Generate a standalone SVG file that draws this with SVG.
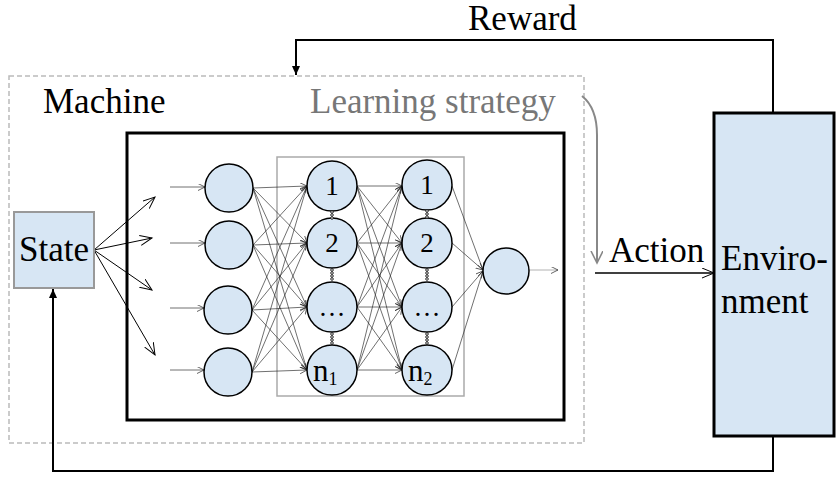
<svg xmlns="http://www.w3.org/2000/svg" width="840" height="478" viewBox="0 0 840 478">
<defs>
<marker id="fill" markerUnits="userSpaceOnUse" markerWidth="10" markerHeight="10" refX="9" refY="4" orient="auto"><path d="M0,0 L9,4 L0,8 Z" fill="#000"/></marker>
<marker id="open" markerUnits="userSpaceOnUse" markerWidth="14" markerHeight="12" refX="12" refY="5" orient="auto"><path d="M0,0 L12,5 L0,10" fill="none" stroke="#000" stroke-width="1"/></marker>
<marker id="gopen" markerUnits="userSpaceOnUse" markerWidth="14" markerHeight="14" refX="12" refY="6" orient="auto"><path d="M0,0 L12,6 L0,12" fill="none" stroke="#888" stroke-width="1.6"/></marker>
<marker id="sm" markerUnits="userSpaceOnUse" markerWidth="8" markerHeight="8" refX="7" refY="3.5" orient="auto"><path d="M0,0 L7,3.5 L0,7" fill="none" stroke="#222" stroke-width="0.7"/></marker>
</defs>
<style>
.lbl{font-family:"Liberation Serif","Times New Roman",serif;font-size:35px;fill:#000}
.nt{font-family:"Liberation Serif","Times New Roman",serif;font-size:27px;fill:#000;text-anchor:middle}
.nn{font-family:"Liberation Serif","Times New Roman",serif;font-size:31px;fill:#000}
.node{fill:#d7e6f4;stroke:#000;stroke-width:1.5}
.mesh line{stroke:#222;stroke-width:0.65;marker-end:url(#sm)}
.dot{fill:#fff;stroke:#000;stroke-width:0.8}
</style>
<rect width="840" height="478" fill="#fff"/>

<g id="machine">
<rect x="9" y="76" width="575" height="367" fill="none" stroke="#bbb" stroke-width="1.5" stroke-dasharray="5,3"/>
<text class="lbl" x="43" y="113">Machine</text>
<text class="lbl" x="310" y="113" style="fill:#777">Learning strategy</text>
</g>

<g id="network-box">
<rect x="127" y="133" width="437" height="287" fill="none" stroke="#000" stroke-width="3"/>
<rect x="277" y="157" width="187" height="239" fill="none" stroke="#aaa" stroke-width="1.5"/>
</g>

<g id="connectors">
<path d="M773 113 L773 40 L296 40 L296 75" fill="none" stroke="#000" stroke-width="2" marker-end="url(#fill)"/>
<path d="M773 436 L773 471 L53 471 L53 289" fill="none" stroke="#000" stroke-width="2" marker-end="url(#fill)"/>
<path d="M582 96 Q597 108 597 135 L597 263" fill="none" stroke="#888" stroke-width="2" marker-end="url(#gopen)"/>
<line x1="595" y1="273" x2="714" y2="273" stroke="#000" stroke-width="1.3" marker-end="url(#open)"/>
<g stroke="#000" stroke-width="1" fill="none">
<line x1="94" y1="250" x2="155" y2="197" marker-end="url(#open)"/>
<line x1="94" y1="250" x2="152" y2="238" marker-end="url(#open)"/>
<line x1="94" y1="250" x2="152" y2="290" marker-end="url(#open)"/>
<line x1="94" y1="250" x2="155" y2="355" marker-end="url(#open)"/>
</g>
<g class="mesh">
<line x1="170" y1="187" x2="205" y2="187"/>
<line x1="170" y1="243" x2="205" y2="243"/>
<line x1="170" y1="308" x2="204" y2="308"/>
<line x1="170" y1="370" x2="204" y2="370"/>

<line x1="253" y1="188" x2="307" y2="186"/>
<line x1="253" y1="188" x2="307" y2="243"/>
<line x1="253" y1="188" x2="307" y2="307"/>
<line x1="253" y1="188" x2="307" y2="370"/>
<line x1="253" y1="245" x2="307" y2="186"/>
<line x1="253" y1="245" x2="307" y2="243"/>
<line x1="253" y1="245" x2="307" y2="307"/>
<line x1="253" y1="245" x2="307" y2="370"/>
<line x1="252" y1="310" x2="307" y2="186"/>
<line x1="252" y1="310" x2="307" y2="243"/>
<line x1="252" y1="310" x2="307" y2="307"/>
<line x1="252" y1="310" x2="307" y2="370"/>
<line x1="252" y1="372" x2="307" y2="186"/>
<line x1="252" y1="372" x2="307" y2="243"/>
<line x1="252" y1="372" x2="307" y2="307"/>
<line x1="252" y1="372" x2="307" y2="370"/>

<line x1="357" y1="186" x2="402" y2="186"/>
<line x1="357" y1="186" x2="402" y2="243"/>
<line x1="357" y1="186" x2="402" y2="307"/>
<line x1="357" y1="186" x2="402" y2="370"/>
<line x1="357" y1="243" x2="402" y2="186"/>
<line x1="357" y1="243" x2="402" y2="243"/>
<line x1="357" y1="243" x2="402" y2="307"/>
<line x1="357" y1="243" x2="402" y2="370"/>
<line x1="357" y1="307" x2="402" y2="186"/>
<line x1="357" y1="307" x2="402" y2="243"/>
<line x1="357" y1="307" x2="402" y2="307"/>
<line x1="357" y1="307" x2="402" y2="370"/>
<line x1="357" y1="370" x2="402" y2="186"/>
<line x1="357" y1="370" x2="402" y2="243"/>
<line x1="357" y1="370" x2="402" y2="307"/>
<line x1="357" y1="370" x2="402" y2="370"/>

<line x1="452" y1="186" x2="483" y2="270"/>
<line x1="452" y1="243" x2="483" y2="270"/>
<line x1="452" y1="307" x2="483" y2="271"/>
<line x1="452" y1="370" x2="483" y2="271"/>

<line x1="529" y1="270" x2="558" y2="270" style="stroke:#888"/>
</g>
</g>

<g id="state">
<rect x="14" y="212" width="80" height="76" fill="#d7e6f4" stroke="#999" stroke-width="2"/>
<text class="lbl" x="19" y="261">State</text>
</g>

<g id="environment">
<rect x="714" y="113" width="120" height="323" fill="#d7e6f4" stroke="#000" stroke-width="3"/>
<text class="lbl" x="721" y="270">Enviro-</text>
<text class="lbl" x="721" y="313">nment</text>
</g>

<g id="action-label"><text class="lbl" x="609" y="262">Action</text></g>
<g id="reward-label"><text class="lbl" x="468" y="30">Reward</text></g>

<g id="input-layer">
<circle class="node" cx="229" cy="188" r="24"/>
<circle class="node" cx="229" cy="245" r="24"/>
<circle class="node" cx="228" cy="310" r="24"/>
<circle class="node" cx="228" cy="372" r="24"/>
</g>

<g id="hidden-layer-1">
<circle class="node" cx="332" cy="186" r="25"/>
<circle class="node" cx="332" cy="243" r="25"/>
<circle class="node" cx="332" cy="307" r="25"/>
<circle class="node" cx="332" cy="370" r="25"/>
<text class="nt" x="332" y="195">1</text>
<text class="nt" x="332" y="252">2</text>
<text class="nt" x="332" y="316">…</text>
<text class="nn" x="313" y="381">n<tspan font-size="18" dy="4">1</tspan></text>
<circle class="dot" cx="332" cy="212" r="1.3"/><circle class="dot" cx="332" cy="215" r="1.3"/><circle class="dot" cx="332" cy="218" r="1.3"/>
<circle class="dot" cx="332" cy="270" r="1.3"/><circle class="dot" cx="332" cy="273" r="1.3"/><circle class="dot" cx="332" cy="276" r="1.3"/><circle class="dot" cx="332" cy="279" r="1.3"/>
<circle class="dot" cx="332" cy="334" r="1.3"/><circle class="dot" cx="332" cy="337" r="1.3"/><circle class="dot" cx="332" cy="340" r="1.3"/><circle class="dot" cx="332" cy="343" r="1.3"/>
</g>

<g id="hidden-layer-2">
<circle class="node" cx="427" cy="185" r="25"/>
<circle class="node" cx="427" cy="243" r="25"/>
<circle class="node" cx="427" cy="307" r="25"/>
<circle class="node" cx="427" cy="370" r="25"/>
<text class="nt" x="427" y="194">1</text>
<text class="nt" x="427" y="252">2</text>
<text class="nt" x="427" y="316">…</text>
<text class="nn" x="408" y="381">n<tspan font-size="18" dy="4">2</tspan></text>
<circle class="dot" cx="427" cy="211" r="1.3"/><circle class="dot" cx="427" cy="214" r="1.3"/><circle class="dot" cx="427" cy="217" r="1.3"/>
<circle class="dot" cx="427" cy="270" r="1.3"/><circle class="dot" cx="427" cy="273" r="1.3"/><circle class="dot" cx="427" cy="276" r="1.3"/><circle class="dot" cx="427" cy="279" r="1.3"/>
<circle class="dot" cx="427" cy="334" r="1.3"/><circle class="dot" cx="427" cy="337" r="1.3"/><circle class="dot" cx="427" cy="340" r="1.3"/><circle class="dot" cx="427" cy="343" r="1.3"/>
</g>

<g id="output-node">
<circle class="node" cx="506" cy="271" r="23"/>
</g>
</svg>
